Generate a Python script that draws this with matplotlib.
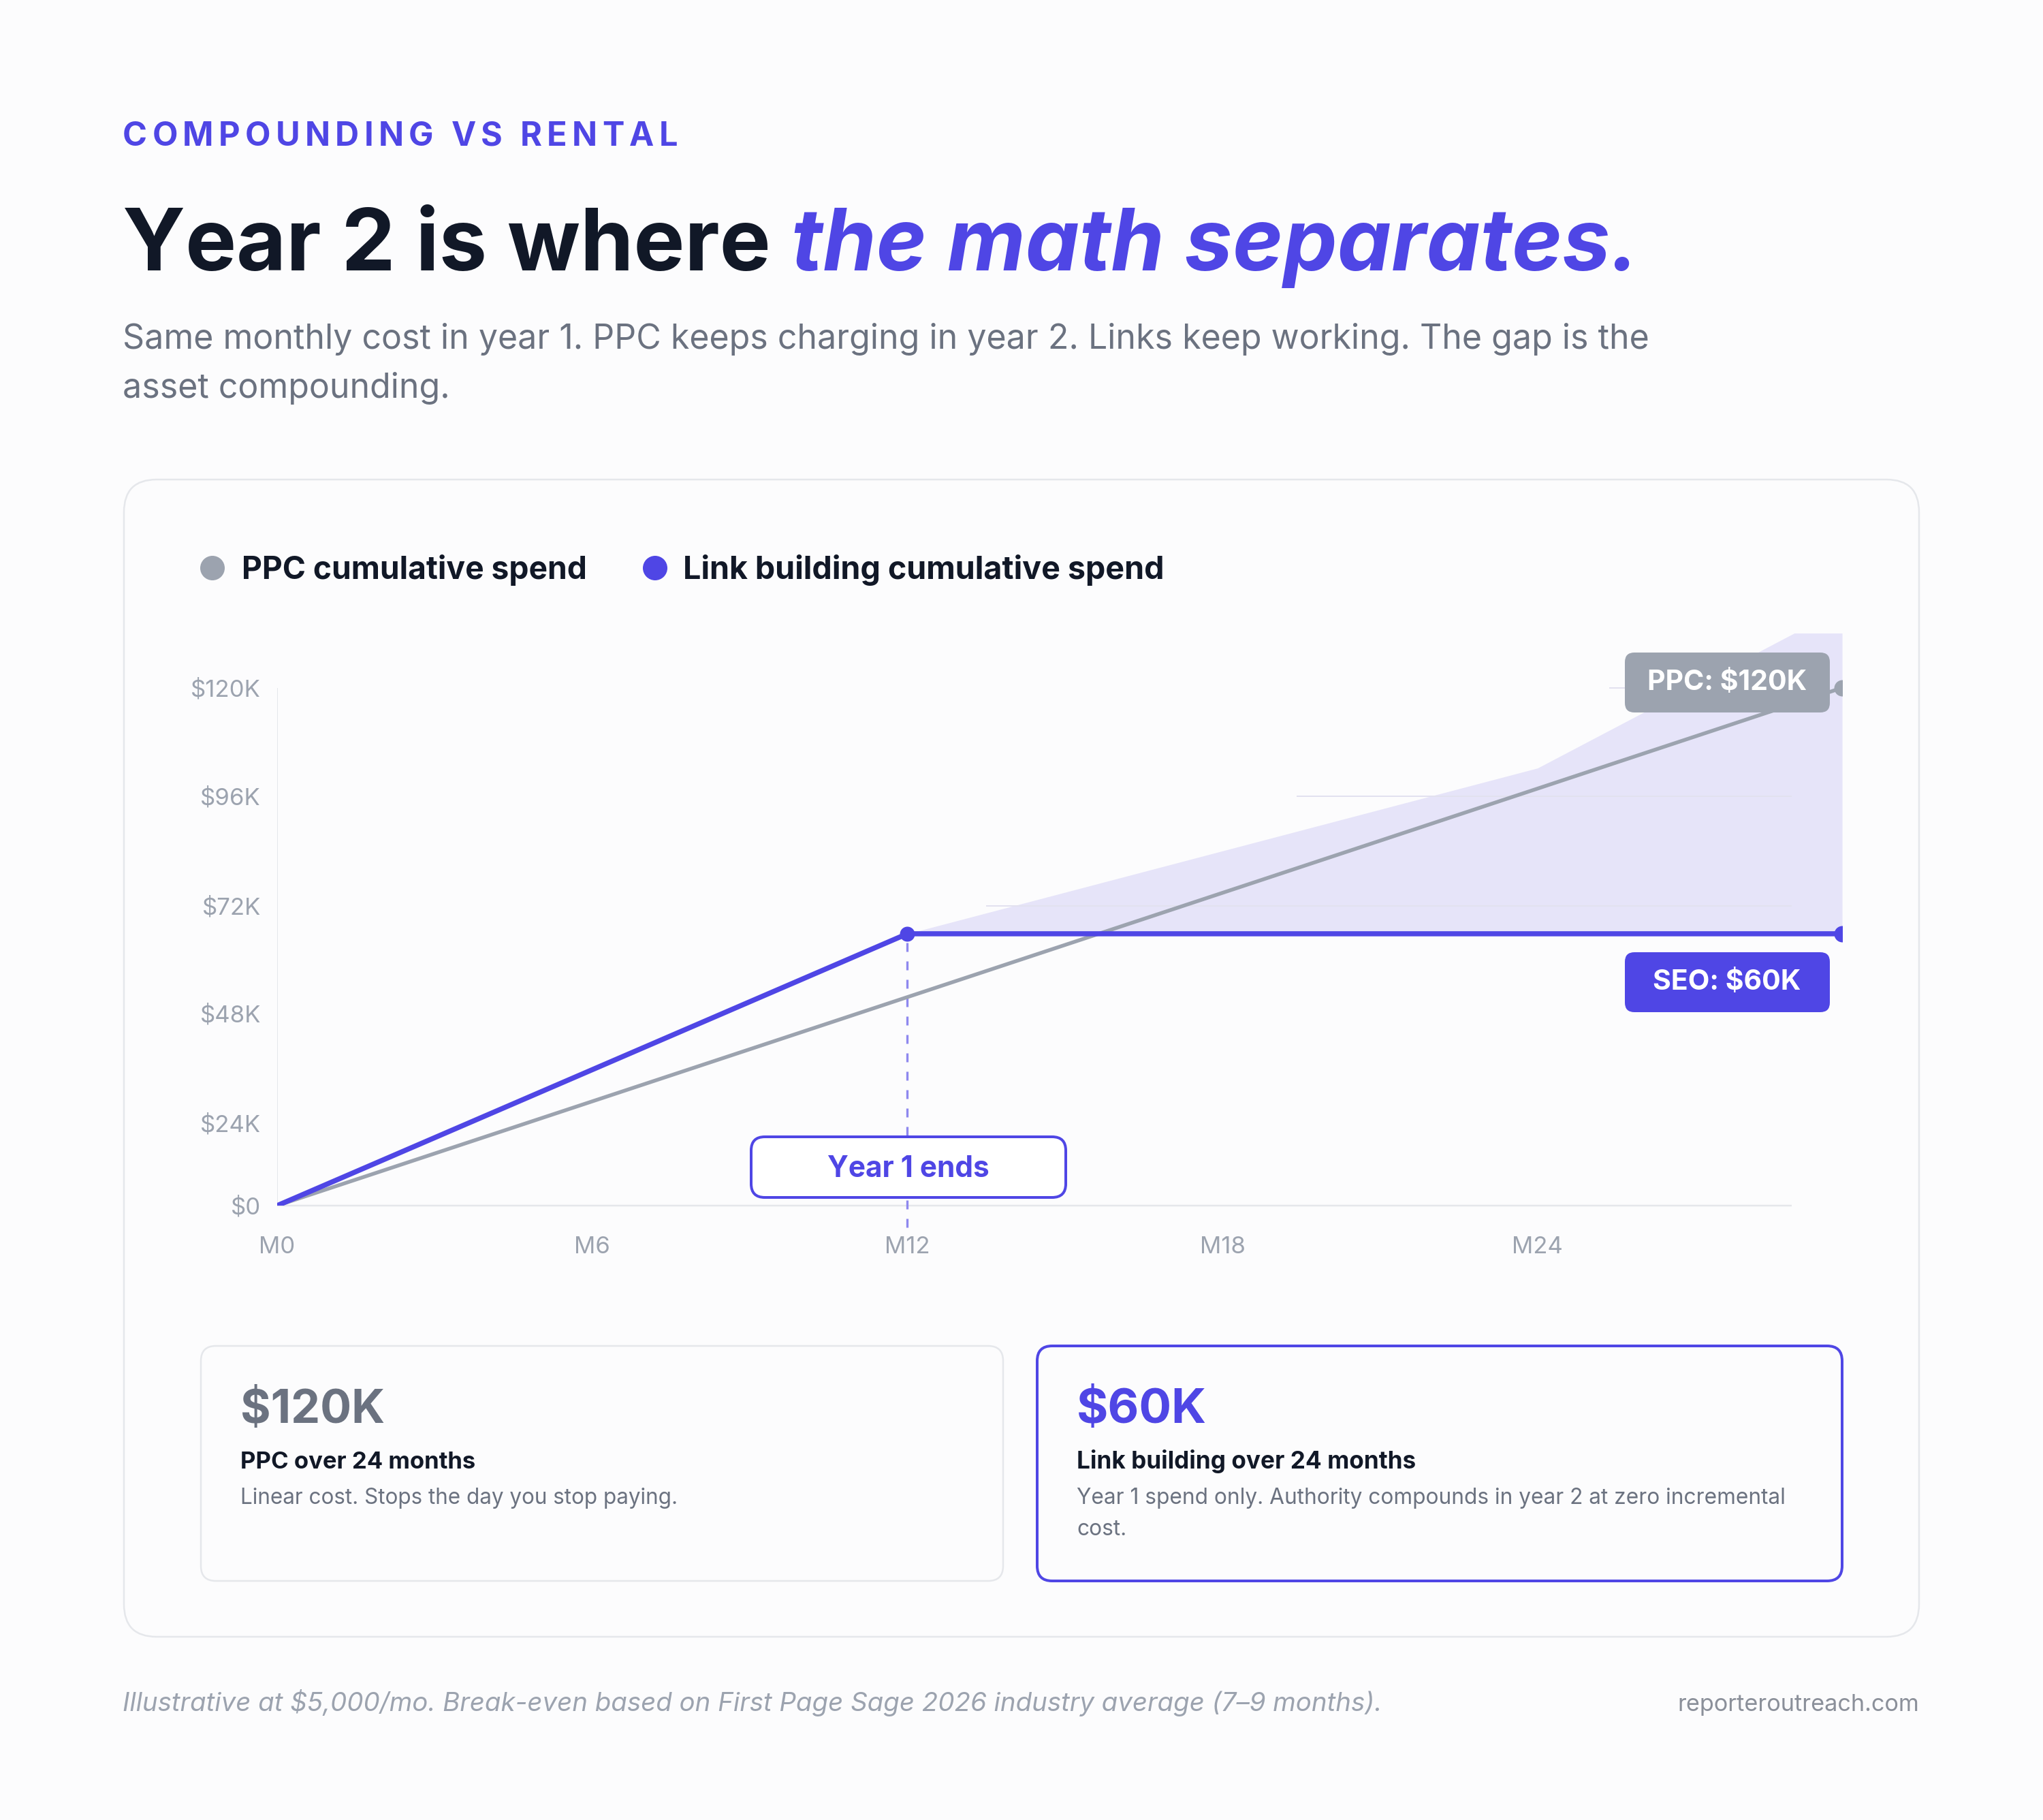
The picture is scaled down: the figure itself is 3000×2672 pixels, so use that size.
import matplotlib.pyplot as plt
from matplotlib.patches import FancyBboxPatch, Circle

plt.rcParams['font.family'] = ['Inter', 'DejaVu Sans']
plt.rcParams['lines.scale_dashes'] = False

# data
ppc_months = [0, 29.8]
ppc_spend = [0, 120000]
link_months = [0, 12, 29.8]
link_spend = [0, 63000, 63000]
gap_months = [12, 24, 29.8]
gap_top = [63000, 101400, 138500]

x_ticks = [0, 6, 12, 18, 24]
x_labels = ['M0', 'M6', 'M12', 'M18', 'M24']
# y labels sit on a slightly different grid than the data in the reference
y_label_pos = [0, 19100, 44500, 69500, 94900, 120000]
y_labels = ['$0', '$24K', '$48K', '$72K', '$96K', '$120K']

series_names = ['PPC cumulative spend', 'Link building cumulative spend']
ppc_label = 'PPC: $120K'
seo_label = 'SEO: $60K'
card_values = ['$120K', '$60K']
card_titles = ['PPC over 24 months', 'Link building over 24 months']
card_notes = [['Linear cost. Stops the day you stop paying.'],
              ['Year 1 spend only. Authority compounds in year 2 at zero incremental', 'cost.']]

BG = '#fcfcfd'
BLUE = '#4f46e5'
GRAY = '#9ca3af'
DARK = '#111827'
MUTED = '#6b7280'
FILL = '#e6e4f9'
LINE = '#e5e7eb'


def px(v):
    # pixels -> points at dpi 100
    return v * 0.72


fig = plt.figure(figsize=(30, 26.72), dpi=100, facecolor=BG)
R = fig.canvas.get_renderer()


def pixel_axes(z):
    a = fig.add_axes([0, 0, 1, 1], zorder=z)
    a.set_xlim(0, 3000)
    a.set_ylim(2672, 0)
    a.axis('off')
    a.patch.set_alpha(0)
    return a


def put(a, x, y, s, width=None, size=20, **kw):
    t = a.text(x, y, s, fontsize=size, va='baseline', **kw)
    if width:
        w = t.get_window_extent(R).width
        t.set_fontsize(size * width / w)
    return t


def tracked(a, x, y, s, width, size, **kw):
    ref = a.text(0, 0, 'HH', fontsize=size, **kw)
    base_w = ref.get_window_extent(R).width
    ref.remove()
    widths = []
    for ch in s:
        t = a.text(0, 0, 'H' + ch + 'H', fontsize=size, **kw)
        widths.append(t.get_window_extent(R).width - base_w)
        t.remove()
    gap = (width - sum(widths)) / (len(s) - 1)
    for ch, w in zip(s, widths):
        a.text(x, y, ch, fontsize=size, va='baseline', **kw)
        x += w + gap


base = pixel_axes(0)

# header
tracked(base, 180, 214, 'COMPOUNDING VS RENTAL', 815, 35, color=BLUE, fontweight='bold')
t1 = put(base, 180, 397, 'Year 2 is where', 932, 88, color=DARK, fontweight='bold')
t2 = put(base, 1145, 397, 'the math separates.', 1271, 88, color=BLUE,
         fontweight='bold', fontstyle='italic')
size = (t1.get_fontsize() + t2.get_fontsize()) / 2
t1.set_fontsize(size)
t2.set_fontsize(size)
t2.set_x(t1.get_window_extent(R).x1 + 30)
s1 = put(base, 180, 512, 'Same monthly cost in year 1. PPC keeps charging in year 2. '
         'Links keep working. The gap is the', 2241, 33, color=MUTED)
put(base, 180, 584, 'asset compounding.', size=s1.get_fontsize(), color=MUTED)

# outer card
base.add_patch(FancyBboxPatch((182, 704), 2636, 1699, boxstyle='round,pad=0,rounding_size=48',
                              fc=BG, ec=LINE, lw=px(2.5)))

# legend
for cx, tx, w, c, name in [(312, 355, 507, GRAY, series_names[0]),
                           (962, 1003, 706, BLUE, series_names[1])]:
    base.add_patch(Circle((cx, 834), 18, fc=c, ec='none'))
    put(base, tx, 850, name, w, 32, color=DARK, fontweight='bold')

# chart
ax = fig.add_axes([407 / 3000, 1 - 1770 / 2672, 2298 / 3000, 840 / 2672], zorder=1)
ax.patch.set_alpha(0)
ax.set_xlim(0, ppc_months[-1])
ax.set_ylim(0, 132600)
for s in ax.spines.values():
    s.set_visible(False)

ax.fill_between(gap_months, link_spend[-1], gap_top, color=FILL, lw=0, zorder=1)
ax.hlines([120000, 94900, 69500], [25.36, 19.41, 13.5], 28.84, colors='#e2e1ef',
          lw=px(2), zorder=2)
ax.hlines(0, 0, 28.84, colors=LINE, lw=px(2.5), zorder=2, clip_on=False)
ax.vlines(0, 0, 120000, colors=LINE, lw=px(2), zorder=2)
ax.plot([12, 12], [-5000, link_spend[1]], color='#8e88ef', lw=px(3.3),
        dashes=(px(13), px(14)), clip_on=False, zorder=2)

ax.plot(ppc_months, ppc_spend, color=GRAY, lw=px(5.5), solid_capstyle='butt', zorder=3)
ax.plot(link_months, link_spend, color=BLUE, lw=px(7.5), solid_capstyle='butt', zorder=4)
ax.plot(link_months[1], link_spend[1], 'o', color=BLUE, ms=px(22), mew=0, zorder=5)
ax.plot(link_months[-1], link_spend[-1], 'o', color=BLUE, ms=px(24), mew=0, zorder=5)
ax.plot(ppc_months[-1], ppc_spend[-1], 'o', color=GRAY, ms=px(24), mew=0, zorder=5)

ax.set_xticks(x_ticks, x_labels)
ax.set_yticks(y_label_pos, y_labels)
ax.tick_params(axis='x', length=0, pad=px(45), labelsize=25, labelcolor=GRAY)
ax.tick_params(axis='y', length=0, pad=px(24), labelsize=25, labelcolor=GRAY)

# boxes drawn over the chart
top = pixel_axes(2)
top.add_patch(FancyBboxPatch((1103, 1669), 462, 89, boxstyle='round,pad=0,rounding_size=20',
                             fc='white', ec=BLUE, lw=px(4)))
put(top, 1334, 1728, 'Year 1 ends', size=30.5, color=BLUE, fontweight='bold', ha='center')

for y0, c, s in [(958, GRAY, ppc_label), (1398, BLUE, seo_label)]:
    top.add_patch(FancyBboxPatch((2386, y0), 301, 88, boxstyle='round,pad=0,rounding_size=14',
                                 fc=c, ec='none'))
    put(top, 2536, y0 + 55, s, size=29.5, color='white', fontweight='bold', ha='center')

# stat cards
for x0, w, ec, lw, vc, vw, tw, nw, i in [
        (295, 1178, LINE, 2.5, MUTED, 212, 345, 643, 0),
        (1523, 1182, BLUE, 4, BLUE, 191, 497, 1040, 1)]:
    base.add_patch(FancyBboxPatch((x0, 1976), w, 345, boxstyle='round,pad=0,rounding_size=22',
                                  fc=BG, ec=ec, lw=px(lw)))
    tx = x0 + 58
    put(base, tx, 2089, card_values[i], vw, 55, color=vc, fontweight='bold')
    put(base, tx, 2156, card_titles[i], tw, 22, color=DARK, fontweight='bold')
    n = put(base, tx, 2208, card_notes[i][0], nw, 20, color=MUTED)
    for k, line in enumerate(card_notes[i][1:]):
        put(base, tx, 2254 + 46 * k, line, size=n.get_fontsize(), color=MUTED)

# footer
put(base, 180, 2512, 'Illustrative at $5,000/mo. Break-even based on First Page Sage 2026 '
    'industry average (7\u20139 months).', 1849, 25, color=GRAY, fontstyle='italic')
f = put(base, 2818, 2512, 'reporteroutreach.com', 356, 24, color='#8b909a', ha='right')

fig.savefig('out.png', dpi=100, facecolor=BG)
